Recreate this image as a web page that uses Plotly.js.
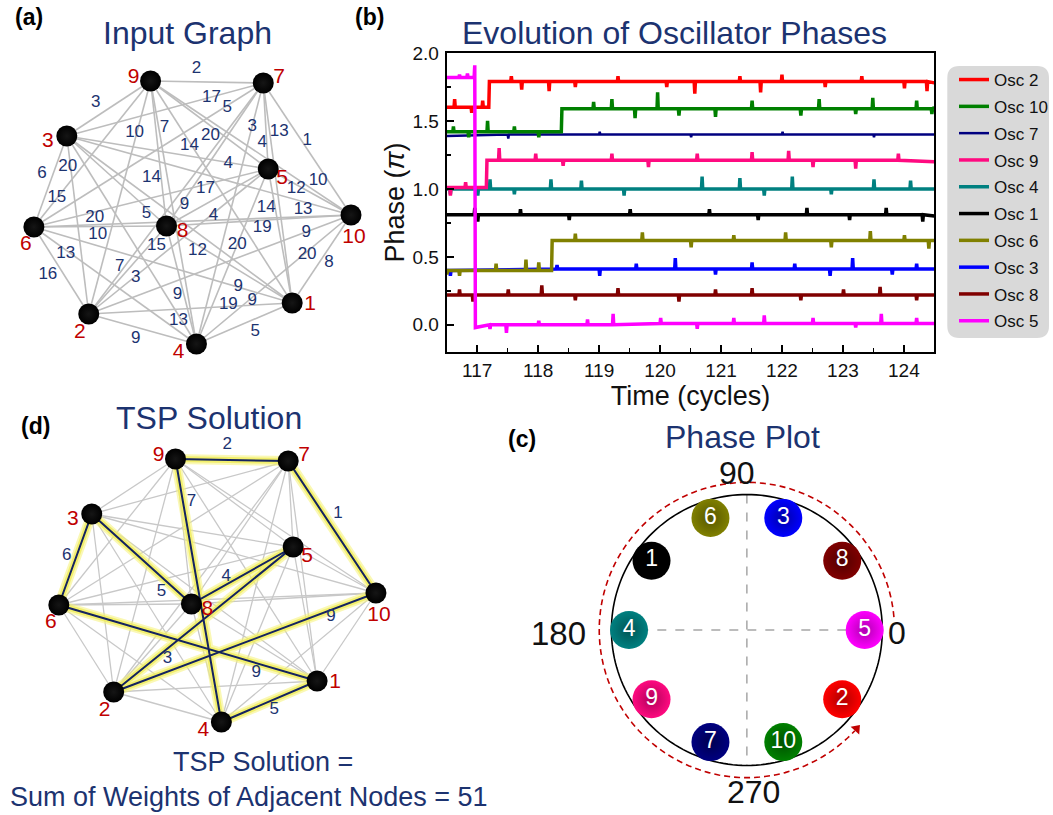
<!DOCTYPE html>
<html><head><meta charset="utf-8">
<script src="https://cdn.plot.ly/plotly-3.0.1.min.js"></script>
<style>html,body{margin:0;padding:0;background:#fff}#chart{width:1053px;height:815px}</style>
</head><body><div id="chart"></div>
<script>
// ================= DATA =================
// Panel (b): oscillator phase traces, [time (cycles), phase (pi)]
const osc2 = [[116.5,1.60],[116.62,1.60],[116.63,1.66],[116.64,1.60],[116.9,1.60],[116.91,1.56],[116.92,1.60],[117.08,1.60],[117.09,1.65],[117.1,1.60],[117.19,1.60],[117.2,1.79],[117.55,1.79],[117.56,1.83],[117.57,1.79],[117.72,1.79],[117.73,1.73],[117.74,1.79],[118.17,1.79],[118.18,1.72],[118.19,1.79],[118.6,1.79],[118.61,1.75],[118.62,1.79],[119.3,1.79],[119.31,1.83],[119.32,1.79],[120.1,1.79],[120.11,1.75],[120.12,1.79],[120.56,1.79],[120.57,1.70],[120.58,1.79],[121.3,1.79],[121.31,1.83],[121.32,1.79],[121.64,1.79],[121.65,1.71],[121.66,1.79],[121.99,1.79],[122.0,1.84],[122.01,1.79],[122.7,1.79],[122.71,1.75],[122.72,1.79],[123.3,1.79],[123.31,1.83],[123.32,1.79],[124.0,1.79],[124.01,1.74],[124.02,1.79],[124.37,1.79],[124.38,1.72],[124.39,1.79],[124.5,1.78]];
const osc10 = [[116.5,1.42],[116.6,1.42],[116.61,1.46],[116.62,1.42],[116.85,1.42],[116.86,1.38],[116.87,1.42],[117.16,1.42],[117.17,1.50],[117.18,1.42],[117.6,1.42],[117.61,1.46],[117.62,1.42],[118.0,1.42],[118.01,1.38],[118.02,1.42],[118.38,1.42],[118.39,1.59],[118.9,1.59],[118.91,1.64],[118.92,1.59],[119.2,1.59],[119.21,1.66],[119.22,1.59],[119.58,1.59],[119.59,1.52],[119.6,1.59],[119.95,1.59],[119.96,1.71],[119.97,1.59],[120.3,1.59],[120.31,1.54],[120.32,1.59],[120.9,1.59],[120.91,1.53],[120.92,1.59],[121.5,1.59],[121.51,1.65],[121.52,1.59],[122.3,1.59],[122.31,1.54],[122.32,1.59],[122.6,1.59],[122.61,1.66],[122.62,1.59],[123.2,1.59],[123.21,1.55],[123.22,1.59],[123.48,1.59],[123.49,1.67],[123.5,1.59],[124.2,1.59],[124.21,1.65],[124.22,1.59],[124.45,1.59],[124.46,1.55],[124.47,1.59],[124.5,1.60]];
const osc7 = [[116.5,1.39],[117.5,1.40],[117.51,1.37],[117.52,1.40],[119.0,1.40],[119.01,1.42],[119.02,1.40],[120.5,1.40],[120.51,1.38],[120.52,1.40],[122.0,1.40],[122.01,1.42],[122.02,1.40],[123.5,1.40],[123.51,1.38],[123.52,1.40],[124.5,1.40]];
const osc9 = [[116.5,1.01],[116.55,1.01],[116.56,0.95],[116.57,1.01],[116.8,1.01],[116.81,1.05],[116.82,1.01],[117.15,1.01],[117.16,1.21],[117.35,1.21],[117.36,1.30],[117.37,1.21],[117.95,1.21],[117.96,1.26],[117.97,1.21],[118.4,1.21],[118.41,1.17],[118.42,1.21],[119.2,1.21],[119.21,1.26],[119.22,1.21],[119.8,1.21],[119.81,1.16],[119.82,1.21],[120.6,1.21],[120.61,1.26],[120.62,1.21],[121.5,1.21],[121.51,1.27],[121.52,1.21],[122.1,1.21],[122.11,1.28],[122.12,1.21],[122.5,1.21],[122.51,1.16],[122.52,1.21],[123.2,1.21],[123.21,1.15],[123.22,1.21],[123.9,1.21],[123.91,1.26],[123.92,1.21],[124.5,1.20]];
const osc4 = [[116.5,1.00],[116.55,1.00],[116.56,0.96],[116.57,1.00],[117.0,1.00],[117.01,0.95],[117.02,1.00],[117.2,1.00],[117.21,1.07],[117.22,1.00],[117.6,1.00],[117.61,0.96],[117.62,1.00],[118.2,1.00],[118.21,1.07],[118.22,1.00],[118.7,1.00],[118.71,1.06],[118.72,1.00],[119.4,1.00],[119.41,0.95],[119.42,1.00],[120.68,1.00],[120.69,1.09],[120.7,1.00],[121.3,1.00],[121.31,1.08],[121.32,1.00],[121.7,1.00],[121.71,0.95],[121.72,1.00],[122.16,1.00],[122.17,1.09],[122.18,1.00],[122.8,1.00],[122.81,0.96],[122.82,1.00],[123.5,1.00],[123.51,1.07],[123.52,1.00],[124.1,1.00],[124.11,1.06],[124.12,1.00],[124.5,1.00]];
const osc1 = [[116.5,0.81],[116.95,0.81],[116.96,0.86],[116.97,0.81],[117.0,0.81],[117.01,0.76],[117.02,0.81],[117.7,0.81],[117.71,0.85],[117.72,0.81],[118.5,0.81],[118.51,0.77],[118.52,0.81],[119.5,0.81],[119.51,0.85],[119.52,0.81],[120.8,0.81],[120.81,0.85],[120.82,0.81],[121.6,0.81],[121.61,0.77],[121.62,0.81],[122.4,0.81],[122.41,0.86],[122.42,0.81],[123.1,0.81],[123.11,0.77],[123.12,0.81],[123.7,0.81],[123.71,0.86],[123.72,0.81],[124.3,0.81],[124.31,0.76],[124.32,0.81],[124.5,0.80]];
const osc6 = [[116.5,0.37],[116.52,0.40],[116.7,0.40],[116.71,0.36],[116.72,0.40],[117.3,0.40],[117.31,0.45],[117.32,0.40],[117.79,0.40],[117.8,0.48],[117.81,0.40],[118.0,0.40],[118.01,0.46],[118.02,0.40],[118.22,0.40],[118.23,0.62],[118.6,0.62],[118.61,0.67],[118.62,0.62],[119.7,0.62],[119.71,0.68],[119.72,0.62],[120.5,0.62],[120.51,0.57],[120.52,0.62],[121.2,0.62],[121.21,0.66],[121.22,0.62],[122.05,0.62],[122.06,0.68],[122.07,0.62],[122.8,0.62],[122.81,0.57],[122.82,0.62],[123.44,0.62],[123.45,0.69],[123.46,0.62],[124.0,0.62],[124.01,0.66],[124.02,0.62],[124.4,0.62],[124.41,0.56],[124.42,0.62],[124.5,0.62]];
const osc3 = [[116.5,0.40],[116.55,0.40],[116.56,0.36],[116.57,0.40],[118.3,0.41],[118.31,0.44],[118.32,0.41],[119.0,0.41],[119.01,0.36],[119.02,0.41],[119.6,0.41],[119.61,0.45],[119.62,0.41],[120.24,0.41],[120.25,0.49],[120.26,0.41],[120.9,0.41],[120.91,0.37],[120.92,0.41],[121.5,0.41],[121.51,0.46],[121.52,0.41],[122.2,0.41],[122.21,0.45],[122.22,0.41],[122.78,0.41],[122.79,0.36],[122.8,0.41],[123.15,0.41],[123.16,0.49],[123.17,0.41],[123.8,0.41],[123.81,0.37],[123.82,0.41],[124.2,0.41],[124.21,0.45],[124.22,0.41],[124.5,0.41]];
const osc8 = [[116.5,0.22],[116.7,0.22],[116.71,0.26],[116.72,0.22],[116.92,0.22],[116.93,0.17],[116.94,0.22],[117.5,0.22],[117.51,0.26],[117.52,0.22],[118.05,0.22],[118.06,0.29],[118.07,0.22],[118.6,0.22],[118.61,0.18],[118.62,0.22],[119.3,0.22],[119.31,0.27],[119.32,0.22],[120.3,0.22],[120.31,0.17],[120.32,0.22],[120.9,0.22],[120.91,0.26],[120.92,0.22],[121.5,0.22],[121.51,0.27],[121.52,0.22],[122.3,0.22],[122.31,0.18],[122.32,0.22],[123.0,0.22],[123.01,0.26],[123.02,0.22],[123.6,0.22],[123.61,0.28],[123.62,0.22],[124.2,0.22],[124.21,0.18],[124.22,0.22],[124.5,0.22]];
const osc5 = [[116.5,1.82],[116.7,1.82],[116.71,1.84],[116.72,1.82],[116.83,1.82],[116.84,1.85],[116.85,1.82],[116.95,1.82],[116.96,1.91],[116.97,-0.02],[117.2,0.00],[117.21,-0.03],[117.22,0.00],[117.47,0.00],[117.48,-0.06],[117.49,0.00],[118.0,0.00],[118.01,0.03],[118.02,0.00],[118.8,0.00],[118.81,0.04],[118.82,0.00],[119.22,0.00],[119.23,0.08],[119.24,0.00],[120.0,0.01],[120.01,0.05],[120.02,0.01],[120.6,0.01],[120.61,-0.03],[120.62,0.01],[121.2,0.01],[121.21,0.05],[121.22,0.01],[121.7,0.01],[121.71,0.07],[121.72,0.01],[122.5,0.01],[122.51,0.05],[122.52,0.01],[123.2,0.01],[123.21,-0.02],[123.22,0.01],[123.62,0.01],[123.63,0.08],[123.64,0.01],[124.2,0.01],[124.21,0.05],[124.22,0.01],[124.5,0.01]];

const legendNames = ['Osc 2','Osc 10','Osc 7','Osc 9','Osc 4','Osc 1','Osc 6','Osc 3','Osc 8','Osc 5'];
const xTickVals = [117,118,119,120,121,122,123,124];
const yTickVals = [0.0,0.5,1.0,1.5,2.0];

// Panel (c): final phases (in pi) of oscillators 1..10
const oscIds = ['1','2','3','4','5','6','7','8','9','10'];
const finalPhase = [0.8, 1.8, 0.4, 1.0, 0.0, 0.6, 1.4, 0.2, 1.2, 1.6];
const angleLabels = ['0','90','180','270'];

// Panels (a),(d): graph with 10 nodes (complete graph), weights, TSP tour
const nodeIds = ['1','2','3','4','5','6','7','8','9','10'];
const weightTextA = ['2','3','17','5','10','7','14','20','3','13','1','4','6','20','14','4','15','17','20','5','9','4','14','13','12','10','10','19','9','15','12','20','13','16','7','3','20','8','9','9','19','9','13','9','5'];
const tourNodes = [9, 7, 10, 2, 5, 8, 3, 6, 1, 4, 9];
const tourWeights = ['2','1','9','3','4','5','6','9','5','7'];
const tsSum = 51;

// ================= LAYOUT (positions / styles) =================
const nodePosX = [293, 89, 67, 197, 269, 34, 264, 167, 151, 352];
const nodePosY = [303, 314, 136, 344, 169, 227, 83, 226, 81, 215];
const nodeLabelDX = [18, -9, -19, -18, 14, -8, 16, 16, -17, 3];
const nodeLabelDY = [2, 19, 6, 9, 10, 18, -5, 6, -3, 23];
const weightPosAX = [197,96,212,228,135,165,190,211,253,280,308,263,42,68,152,229,57,206,95,147,185,214,267,304,297,319,98,263,307,157,198,238,66,48,120,136,308,330,239,178,229,253,179,136,256];
const weightPosAY = [69,103,98,108,133,128,146,136,127,132,141,143,174,167,178,164,198,189,218,214,205,216,208,210,189,181,235,228,233,246,251,245,254,275,267,278,255,263,287,295,305,301,321,339,332];
const tourLabelX = [203,314,307,143,202,137,42,232,250,167];
const tourLabelY = [67,136,239,281,199,214,178,295,332,124];

const W = 1053, H = 815;
const PX = x => x / W, PY = y => 1 - y / H;
const FONT = 'Arial, "Liberation Sans", sans-serif';
const NAVY = '#1c3370';
const oscColor = {'1':'#000000','2':'#ff0000','3':'#0000ff','4':'#008080','5':'#ff00ff','6':'#808000','7':'#000080','8':'#800000','9':'#ff0a80','10':'#008000'};
const oscShade = {'1':'#000000','2':'#b00000','3':'#0000a8','4':'#005555','5':'#b000b0','6':'#555500','7':'#000050','8':'#500000','9':'#b0005a','10':'#005000'};

const traces = [];

// ---- panel (b) traces (drawing order) with legend ranks ----
const series = {'Osc 2':osc2,'Osc 10':osc10,'Osc 7':osc7,'Osc 9':osc9,'Osc 4':osc4,'Osc 1':osc1,'Osc 6':osc6,'Osc 3':osc3,'Osc 8':osc8,'Osc 5':osc5};
const drawOrder = ['Osc 7','Osc 10','Osc 4','Osc 9','Osc 3','Osc 6','Osc 1','Osc 8','Osc 2','Osc 5'];
drawOrder.forEach(name => {
  const id = name.split(' ')[1];
  const pts = series[name];
  traces.push({
    type:'scatter', mode:'lines', name:name, xaxis:'x', yaxis:'y',
    x: pts.map(p=>p[0]), y: pts.map(p=>p[1]),
    line:{color:oscColor[id], width: name==='Osc 7' ? 2.5 : 3.5},
    legendrank: legendNames.indexOf(name)+1, legendgroup:name, showlegend:true
  });
});

// ---- graph helpers ----
function allEdges() {
  const xs=[], ys=[];
  for (let i=0;i<nodeIds.length;i++) for (let j=i+1;j<nodeIds.length;j++) {
    xs.push(nodePosX[i], nodePosX[j], null); ys.push(nodePosY[i], nodePosY[j], null);
  }
  return {xs, ys};
}
const E = allEdges();
function nodeTraces(xa, ya) {
  return [
    {type:'scatter', mode:'markers', xaxis:xa, yaxis:ya, x:nodePosX, y:nodePosY,
      marker:{size:21, color:'#000', gradient:{type:'radial', color:'#151515'}}, showlegend:false, cliponaxis:false, hoverinfo:'skip'},
    {type:'scatter', mode:'text', xaxis:xa, yaxis:ya, x:nodePosX.map((v,i)=>v+nodeLabelDX[i]), y:nodePosY.map((v,i)=>v+nodeLabelDY[i]),
      text:nodeIds, textposition:'middle center', textfont:{family:FONT, size:21, color:'#c00000'}, showlegend:false, cliponaxis:false, hoverinfo:'skip'}
  ];
}
// panel (a)
traces.push({type:'scatter', mode:'lines', xaxis:'x2', yaxis:'y2', x:E.xs, y:E.ys, line:{color:'#bdbdbd', width:1.6}, showlegend:false, hoverinfo:'skip'});
traces.push({type:'scatter', mode:'text', xaxis:'x2', yaxis:'y2', x:weightPosAX, y:weightPosAY, text:weightTextA, textfont:{family:FONT, size:17, color:NAVY}, showlegend:false, cliponaxis:false, hoverinfo:'skip'});
nodeTraces('x2','y2').forEach(t=>traces.push(t));
// panel (d)
const tx = tourNodes.map(n=>nodePosX[n-1]), ty = tourNodes.map(n=>nodePosY[n-1]);
traces.push({type:'scatter', mode:'lines', xaxis:'x3', yaxis:'y3', x:E.xs, y:E.ys, line:{color:'#c8c8c8', width:1.3}, showlegend:false, hoverinfo:'skip'});
traces.push({type:'scatter', mode:'lines', xaxis:'x3', yaxis:'y3', x:tx, y:ty, line:{color:'rgba(245,242,120,0.55)', width:10}, showlegend:false, hoverinfo:'skip'});
traces.push({type:'scatter', mode:'lines', xaxis:'x3', yaxis:'y3', x:tx, y:ty, line:{color:'rgba(240,236,90,0.8)', width:6}, showlegend:false, hoverinfo:'skip'});
traces.push({type:'scatter', mode:'lines', xaxis:'x3', yaxis:'y3', x:tx, y:ty, line:{color:'#14235f', width:2}, showlegend:false, hoverinfo:'skip'});
traces.push({type:'scatter', mode:'text', xaxis:'x3', yaxis:'y3', x:tourLabelX, y:tourLabelY, text:tourWeights, textfont:{family:FONT, size:17, color:NAVY}, showlegend:false, cliponaxis:false, hoverinfo:'skip'});
nodeTraces('x3','y3').forEach(t=>traces.push(t));

// ---- panel (c) polar ----
const circTheta = []; for (let a=0;a<=360;a+=2) circTheta.push(a);
const arcTheta = []; for (let a=5;a<=318;a+=2) arcTheta.push(a);
traces.push({type:'scatterpolar', mode:'lines', r:[1,0,1], theta:[0,0,180], line:{color:'#a6a6a6', width:1.5, dash:'dash'}, showlegend:false, hoverinfo:'skip'});
traces.push({type:'scatterpolar', mode:'lines', r:[1,0,1], theta:[90,90,270], line:{color:'#a6a6a6', width:1.5, dash:'dash'}, showlegend:false, hoverinfo:'skip'});
traces.push({type:'scatterpolar', mode:'lines', r:circTheta.map(()=>1), theta:circTheta, line:{color:'#000', width:1.6}, showlegend:false, hoverinfo:'skip'});
traces.push({type:'scatterpolar', mode:'lines', r:arcTheta.map(()=>1.09), theta:arcTheta, line:{color:'#c00000', width:1.6, dash:'6px,4px'}, showlegend:false, hoverinfo:'skip'});
traces.push({type:'scatterpolar', mode:'markers', r:[1.09], theta:[318], marker:{symbol:'triangle-up', size:10, angle:42, color:'#c00000'}, showlegend:false, hoverinfo:'skip'});
traces.push({type:'scatterpolar', mode:'markers+text', r:oscIds.map(()=>0.87), theta:finalPhase.map(p=>p*180), text:oscIds,
  textfont:{family:FONT, size:23, color:'#fff'}, textposition:'middle center',
  marker:{size:38, color:oscIds.map(i=>oscColor[i]), gradient:{type:'radial', color:oscIds.map(i=>oscShade[i])}, line:{width:0}},
  showlegend:false, hoverinfo:'skip'});

// ---- annotations ----
function ann(text, x, y, size, color, extra) {
  return Object.assign({text, x:PX(x), y:PY(y), xref:'paper', yref:'paper', showarrow:false, xanchor:'center', yanchor:'middle', font:{family:FONT, size, color}}, extra||{});
}
const annotations = [
  ann('<b>(a)</b>', 29, 17, 23, '#000'),
  ann('<b>(b)</b>', 371, 17, 23, '#000'),
  ann('<b>(d)</b>', 36, 426, 23, '#000'),
  ann('<b>(c)</b>', 523, 439, 23, '#000'),
  ann('Input Graph', 188, 33, 32, NAVY),
  ann('Evolution of Oscillator Phases', 676, 33, 32, NAVY),
  ann('TSP Solution', 210, 418, 32, NAVY),
  ann('Phase Plot', 745, 437, 32, NAVY),
  ann('TSP Solution =', 264, 762, 27, NAVY),
  ann('Sum of Weights of Adjacent Nodes = ' + tsSum, 250, 797, 27, NAVY),
  ann(angleLabels[0], 900, 633, 32, '#111'),
  ann(angleLabels[1], 739, 473, 32, '#111'),
  ann(angleLabels[2], 560, 633, 33, '#111'),
  ann(angleLabels[3], 756, 792, 32, '#111')
];

// rounded legend box
const lx0=PX(950), lx1=PX(1052), ly0=PY(66), ly1=PY(338), rx=12/W, ry=12/H;
const legendPath = `M ${lx0+rx},${ly0} L ${lx1-rx},${ly0} Q ${lx1},${ly0} ${lx1},${ly0-ry} L ${lx1},${ly1+ry} Q ${lx1},${ly1} ${lx1-rx},${ly1} L ${lx0+rx},${ly1} Q ${lx0},${ly1} ${lx0},${ly1+ry} L ${lx0},${ly0-ry} Q ${lx0},${ly0} ${lx0+rx},${ly0} Z`;

const hidden = {visible:false, fixedrange:true, autorange:false};
const layout = {
  width:W, height:H, margin:{l:0,r:0,t:0,b:0}, paper_bgcolor:'#fff', plot_bgcolor:'rgba(0,0,0,0)',
  font:{family:FONT, color:'#111'},
  showlegend:true,
  legend:{x:PX(957), y:PY(62), xanchor:'left', yanchor:'top', bgcolor:'rgba(0,0,0,0)', font:{family:FONT, size:17, color:'#111'}, tracegroupgap:1.7, traceorder:'grouped', itemwidth:30},
  xaxis:{domain:[PX(448), PX(937)], range:[116.5,124.5], anchor:'y', showline:true, mirror:true, linecolor:'#000', linewidth:2,
    ticks:'inside', ticklen:7, tickwidth:2, tickcolor:'#000', tickvals:xTickVals, showgrid:false, zeroline:false,
    minor:{dtick:0.5, tick0:116.5, ticks:'inside', ticklen:4, tickwidth:1.5, tickcolor:'#000', showgrid:false},
    tickfont:{family:FONT, size:19, color:'#111'}, ticklabelstandoff:0,
    title:{text:'Time (cycles)', font:{family:FONT, size:27, color:'#111'}, standoff:0}},
  yaxis:{domain:[PY(352), PY(53)], range:[-0.2,2.0], anchor:'x', showline:true, mirror:true, linecolor:'#000', linewidth:2,
    ticks:'inside', ticklen:7, tickwidth:2, tickcolor:'#000', tickvals:yTickVals, tickformat:'.1f', showgrid:false, zeroline:false,
    minor:{dtick:0.25, tick0:0, ticks:'inside', ticklen:4, tickwidth:1.5, tickcolor:'#000', showgrid:false},
    tickfont:{family:FONT, size:19, color:'#111'}, ticklabelstandoff:2,
    title:{text:'Phase (<i>π</i>)', font:{family:FONT, size:27, color:'#111'}, standoff:0}},
  xaxis2:Object.assign({domain:[0, PX(380)], range:[0,380], anchor:'y2'}, hidden),
  yaxis2:Object.assign({domain:[PY(370), 1], range:[370,0], anchor:'x2'}, hidden),
  xaxis3:Object.assign({domain:[PX(25), PX(405)], range:[0,380], anchor:'y3'}, hidden),
  yaxis3:Object.assign({domain:[PY(748), PY(378)], range:[370,0], anchor:'x3'}, hidden),
  polar:{domain:{x:[PX(586), PX(912)], y:[PY(793), PY(467)]}, bgcolor:'rgba(0,0,0,0)',
    radialaxis:{visible:false, range:[0,1.2]}, angularaxis:{visible:false, rotation:0, direction:'counterclockwise'}},
  shapes:[{type:'path', path:legendPath, xref:'paper', yref:'paper', fillcolor:'#d9d9d9', line:{width:0}, layer:'below'}],
  annotations
};
Plotly.newPlot('chart', traces, layout, {staticPlot:true, displayModeBar:false});
</script></body></html>
